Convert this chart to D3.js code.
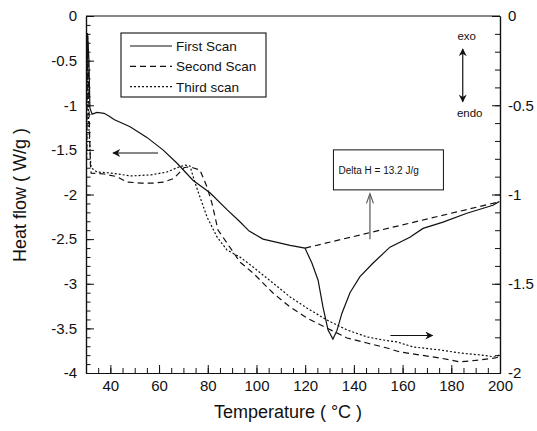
<!DOCTYPE html>
<html lang="en">
<head>
    <meta charset="UTF-8">
    <script src="https://d3js.org/d3.v7.min.js"></script>
    <title>DSC scans</title>
    <style>
        body { margin: 0; background: #fff; }
        text { font-family: "Liberation Sans", Arial, sans-serif; fill: #111; }
        .curve { fill: none; stroke: #111; stroke-width: 1.2; }
    </style>
</head>
<body>
    <div id="container"></div>
<script>
    // tick labels
    var xTicks = [40, 60, 80, 100, 120, 140, 160, 180, 200];
    var leftTicks = [0, -0.5, -1, -1.5, -2, -2.5, -3, -3.5, -4];
    var rightTicks = [0, -0.5, -1, -1.5, -2];

    // first scan (left axis) [temperature, heat flow]
    var firstScan = [
        [30.2, -1.0], [30.6, -0.19], [31.2, -0.49], [31.6, -1.03], [32.5, -1.10],
        [34.5, -1.08], [37.4, -1.09], [39.4, -1.12], [41.5, -1.16], [48.1, -1.24],
        [55.0, -1.36], [61.6, -1.50], [67.4, -1.65], [73.9, -1.84], [80.9, -1.98],
        [87.9, -2.17], [93.0, -2.30], [97.0, -2.41], [102.7, -2.50], [113.8, -2.57], [119.9, -2.60],
        [122.8, -2.77], [125.3, -2.96], [127.3, -3.26], [129.4, -3.52], [131.4, -3.62],
        [133.1, -3.52], [135.1, -3.33], [138.4, -3.10], [142.5, -2.92], [147.8, -2.77],
        [154.8, -2.59], [163.0, -2.48], [168.4, -2.38], [176.6, -2.31], [186.4, -2.21],
        [197.1, -2.12], [199.6, -2.08]
    ];
    // baseline used for the integration
    var baseline = [[120, -2.60], [200, -2.08]];

    // second scan (right axis)
    var secondScan = [
        [30.3, -0.75], [30.7, -0.11], [31.2, -0.5], [31.8, -0.83], [32.1, -0.88],
        [37.4, -0.885], [42.7, -0.90], [46.8, -0.93], [52.6, -0.936], [57.9, -0.936],
        [62.0, -0.93], [66.1, -0.91], [70.2, -0.85], [71.5, -0.846], [73.9, -0.85],
        [76.8, -0.863], [79.7, -0.958], [81.7, -1.048], [84.2, -1.199], [87.9, -1.272],
        [93.2, -1.378], [98.6, -1.44], [106.8, -1.552], [113.8, -1.630], [120.7, -1.692],
        [128.9, -1.748], [137.2, -1.804], [145.4, -1.832], [153.6, -1.860], [158.9, -1.882],
        [167.1, -1.899], [175.4, -1.916], [183.6, -1.938], [191.8, -1.927], [198.0, -1.916],
        [199.6, -1.91]
    ];

    // third scan (right axis)
    var thirdScan = [
        [30.3, -0.8], [30.6, -0.1], [31.1, -0.6], [31.8, -0.8], [32.1, -0.85],
        [34.5, -0.874], [40.3, -0.88], [48.5, -0.896], [56.7, -0.89], [63.3, -0.874],
        [67.4, -0.85], [70.7, -0.835], [72.7, -0.84], [74.8, -0.936], [76.8, -1.014],
        [79.7, -1.126], [83.8, -1.238], [87.9, -1.311], [93.2, -1.35], [98.6, -1.406],
        [106.8, -1.496], [113.8, -1.574], [120.7, -1.636], [128.9, -1.703], [137.2, -1.759],
        [145.4, -1.798], [152.0, -1.815], [157.7, -1.826], [164.3, -1.854], [175.4, -1.871],
        [183.6, -1.888], [191.8, -1.899], [198.0, -1.91], [199.6, -1.90]
    ];

    var legendNames = ["First Scan", "Second Scan", "Third scan"];
    var dashes = [null, "6,4", "2,2"];

    var svg_width = 537, svg_height = 431,
        margin = {top: 16, left: 86, right: 37, bottom: 58},
        g_width = svg_width - margin.left - margin.right,
        g_height = svg_height - margin.top - margin.bottom;

    var svg = d3.select("#container").append("svg")
        .attr("width", svg_width).attr("height", svg_height);

    var defs = svg.append("defs");
    defs.append("marker").attr("id", "head")
        .attr("viewBox", "0 0 10 10").attr("refX", 9).attr("refY", 5)
        .attr("markerWidth", 11).attr("markerHeight", 8).attr("orient", "auto-start-reverse")
        .attr("markerUnits", "userSpaceOnUse")
        .append("path").attr("d", "M0,0 L10,5 L0,10 L3,5 Z").attr("fill", "#111");

    var g = svg.append("g").attr("transform", `translate(${margin.left},${margin.top})`);

    var x = d3.scaleLinear().domain([30, 200]).range([0, g_width]);
    var yL = d3.scaleLinear().domain([-4, 0]).range([g_height, 0]);
    var yR = d3.scaleLinear().domain([-2, 0]).range([g_height, 0]);

    // axes: ticks point inward
    function styleAxis(sel) {
        sel.select(".domain").attr("stroke", "#111").attr("stroke-width", 1.2);
        sel.selectAll(".tick line").attr("stroke", "#111");
        sel.selectAll(".tick text").style("font-size", "15px").attr("fill", "#111");
    }

    var xMinor = d3.range(30, 201, 5);
    g.append("g").attr("transform", `translate(0,${g_height})`)
        .call(d3.axisBottom(x).tickValues(xMinor).tickSize(-5).tickFormat("").tickSizeOuter(0))
        .call(styleAxis);
    g.append("g").attr("transform", `translate(0,${g_height})`)
        .call(d3.axisBottom(x).tickValues(xTicks).tickSize(-8).tickPadding(7).tickSizeOuter(0))
        .call(styleAxis);

    var lMinor = d3.range(0, 41).map(function(i){ return -i / 10; });
    g.append("g")
        .call(d3.axisLeft(yL).tickValues(lMinor).tickSize(-4.5).tickFormat("").tickSizeOuter(0))
        .call(styleAxis);
    g.append("g")
        .call(d3.axisLeft(yL).tickValues(leftTicks).tickSize(-8).tickPadding(9).tickFormat(String).tickSizeOuter(0))
        .call(styleAxis);

    var rMinor = d3.range(0, 21).map(function(i){ return -i / 10; });
    g.append("g").attr("transform", `translate(${g_width},0)`)
        .call(d3.axisRight(yR).tickValues(rMinor).tickSize(-5).tickFormat("").tickSizeOuter(0))
        .call(styleAxis);
    g.append("g").attr("transform", `translate(${g_width},0)`)
        .call(d3.axisRight(yR).tickValues(rightTicks).tickSize(-8).tickPadding(8).tickFormat(String).tickSizeOuter(0))
        .call(styleAxis);

    // top border
    g.append("line").attr("x1", 0).attr("x2", g_width).attr("y1", 0).attr("y2", 0)
        .attr("stroke", "#111").attr("stroke-width", 1.2);

    // curves
    var lineL = d3.line().x(function(d){ return x(d[0]); }).y(function(d){ return yL(d[1]); });
    var lineR = d3.line().x(function(d){ return x(d[0]); }).y(function(d){ return yR(d[1]); });

    g.append("path").attr("class", "curve").attr("d", lineL(firstScan));
    g.append("path").attr("class", "curve").attr("stroke-dasharray", "6,4").attr("d", lineL(baseline));
    g.append("path").attr("class", "curve").attr("stroke-dasharray", dashes[1]).attr("d", lineR(secondScan));
    g.append("path").attr("class", "curve").attr("stroke-dasharray", dashes[2]).attr("d", lineR(thirdScan));

    // axis-pointer arrows
    g.append("line").attr("x1", x(59.6)).attr("x2", x(41.1)).attr("y1", yL(-1.535)).attr("y2", yL(-1.535))
        .attr("stroke", "#111").attr("stroke-width", 1.2).attr("marker-end", "url(#head)");
    g.append("line").attr("x1", x(155)).attr("x2", x(172.3)).attr("y1", yR(-1.79)).attr("y2", yR(-1.79))
        .attr("stroke", "#111").attr("stroke-width", 1.2).attr("marker-end", "url(#head)");

    // exo / endo
    var ex = x(184.7);
    g.append("line").attr("x1", ex).attr("x2", ex).attr("y1", yL(-0.37)).attr("y2", yL(-0.96))
        .attr("stroke", "#111").attr("stroke-width", 1.2)
        .attr("marker-start", "url(#head)").attr("marker-end", "url(#head)");
    g.append("text").attr("x", ex + 4).attr("y", yL(-0.27)).attr("text-anchor", "middle")
        .style("font-size", "11.5px").text("exo");
    g.append("text").attr("x", ex + 7).attr("y", yL(-1.13)).attr("text-anchor", "middle")
        .style("font-size", "11.5px").text("endo");

    // Delta H box and open arrow
    var bx = x(131.6), by = yL(-1.5);
    g.append("rect").attr("x", bx).attr("y", by).attr("width", 110).attr("height", 40)
        .attr("fill", "#fff").attr("stroke", "#111").attr("stroke-width", 1);
    g.append("text").attr("x", bx + 5).attr("y", by + 24).style("font-size", "10px").text("Delta H = 13.2 J/g");
    var ax = x(146.6);
    g.append("line").attr("x1", ax).attr("x2", ax).attr("y1", yL(-2.5)).attr("y2", yL(-2.0))
        .attr("stroke", "#555").attr("stroke-width", 1.2);
    g.append("path")
        .attr("d", `M${ax - 3.5},${yL(-2.1)} L${ax},${yL(-1.99)} L${ax + 3.5},${yL(-2.1)}`)
        .attr("fill", "none").attr("stroke", "#555").attr("stroke-width", 1.1);

    // legend
    var lg = svg.append("g").attr("transform", "translate(121,33)");
    lg.append("rect").attr("width", 145).attr("height", 64)
        .attr("fill", "#fff").attr("stroke", "#111").attr("stroke-width", 1.1);
    legendNames.forEach(function(name, i) {
        var yy = 13 + i * 20.3;
        lg.append("line").attr("class", "curve").attr("x1", 9).attr("x2", 51)
            .attr("y1", yy).attr("y2", yy).attr("stroke-dasharray", dashes[i]);
        lg.append("text").attr("x", 55).attr("y", yy + 5).style("font-size", "13.5px").text(name);
    });

    // axis titles
    svg.append("text").attr("x", 288).attr("y", 418).attr("text-anchor", "middle")
        .style("font-size", "18px").text("Temperature ( °C )");
    svg.append("text").attr("transform", "translate(26,195) rotate(-90)").attr("text-anchor", "middle")
        .style("font-size", "18px").text("Heat flow ( W/g )");
</script>
</body>
</html>
